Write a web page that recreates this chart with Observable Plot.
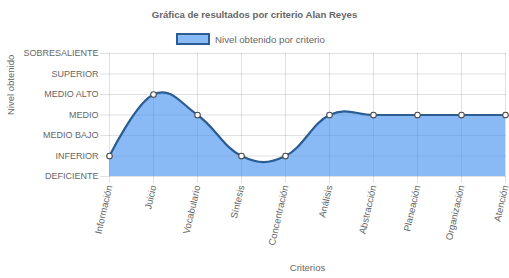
<!DOCTYPE html>
<html><head><meta charset="utf-8">
<script src="https://cdn.jsdelivr.net/npm/d3@7"></script>
<script src="https://cdn.jsdelivr.net/npm/@observablehq/plot@0.6"></script>
<style>
html,body{margin:0;padding:0;background:#fff;}
#wrap{width:509px;height:278px;position:relative;font-family:"Liberation Sans",Arial,Helvetica,sans-serif;color:#666;}
#head{height:48px;position:relative;}
#title{position:absolute;left:0;width:509px;top:9px;text-align:center;font-weight:bold;font-size:9.6px;line-height:12px;color:#666;}
#legend{position:absolute;top:33px;left:176px;height:12px;display:flex;align-items:center;font-size:9.7px;color:#666;}
#legend .sw{width:30px;height:8px;background:rgba(60,140,240,0.6);border:2px solid #2b5d93;margin-right:5px;}
</style></head>
<body><div id="wrap"><div id="head"><div id="title"></div><div id="legend"><span class="sw"></span><span id="legtext"></span></div></div><div id="chart"></div></div>
<script>
const titleText = "Gráfica de resultados por criterio Alan Reyes";
const seriesName = "Nivel obtenido por criterio";
const categories = ["Información","Juicio","Vocabulario","Síntesis","Concentración","Análisis","Abstracción","Planeación","Organización","Atención"];
const values = [1,4,3,1,1,3,3,3,3,3];
const levels = ["DEFICIENTE","INFERIOR","MEDIO BAJO","MEDIO","MEDIO ALTO","SUPERIOR","SOBRESALIENTE"];
const xTitle = "Criterios";
const yTitle = "Nivel obtenido";

document.getElementById("title").textContent = titleText;
document.getElementById("legtext").textContent = seriesName;

const data = categories.map((c,i)=>({c, v: values[i]}));
const gridColor = "rgba(0,0,0,0.12)";

const chart = Plot.plot({
  width: 509,
  height: 230,
  marginTop: 5,
  marginBottom: 102,
  marginLeft: 108,
  marginRight: 3,
  style: {fontFamily: "'Liberation Sans', Arial, Helvetica, sans-serif", fontSize: "9px", color: "#666", background: "#fff", overflow: "visible"},
  x: {type: "point", domain: categories, padding: 0},
  y: {domain: [0, 6]},
  marks: [
    Plot.gridY(d3.range(levels.length), {stroke: "#000", strokeOpacity: 0.12}),
    Plot.gridX(categories, {stroke: "#000", strokeOpacity: 0.12}),
    Plot.axisY(d3.range(levels.length), {tickSize: 8, tickPadding: 2, stroke: gridColor, tickFormat: i => levels[i], label: null}),
    Plot.axisX({tickSize: 7, tickPadding: 2, tickRotate: -77, stroke: gridColor, label: null, fontSize: 9.5}),
    Plot.areaY(data, {x: "c", y: "v", curve: "cardinal", tension: -0.2, fill: "rgb(60,140,240)", fillOpacity: 0.6}),
    Plot.lineY(data, {x: "c", y: "v", curve: "cardinal", tension: -0.2, stroke: "#2b5d93", strokeWidth: 2.2}),
    Plot.dot(data, {x: "c", y: "v", r: 2.8, fill: "#fff", stroke: "#4a4a4a", strokeWidth: 1.1}),
    Plot.text([xTitle], {frameAnchor: "bottom", dy: 94, fill: "#666", fontSize: 9.5}),
    Plot.text([yTitle], {frameAnchor: "left", dx: -98, rotate: -90, fill: "#666", fontSize: 9.5})
  ]
});
document.getElementById("chart").appendChild(chart);
</script></body></html>
